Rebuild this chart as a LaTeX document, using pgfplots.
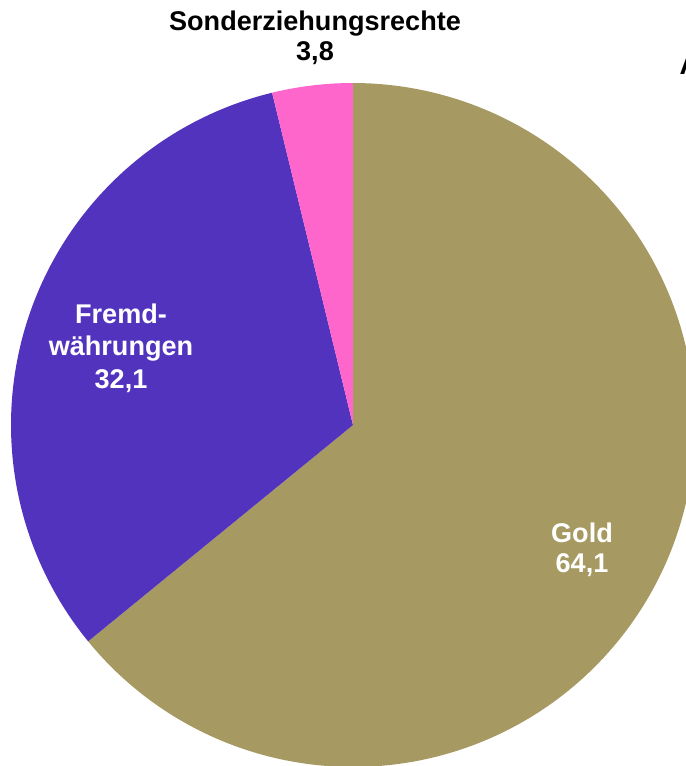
\documentclass[border=0pt]{standalone}
\usepackage{pgfplots}
\pgfplotsset{compat=1.18}
\usepackage{pgfplotstable}
\usepackage{fontspec}
\setmainfont{Liberation Sans}
\definecolor{cgold}{RGB}{166,154,98}
\definecolor{cpurple}{RGB}{82,51,190}
\definecolor{cpink}{RGB}{255,102,204}
\pgfplotstableread{
label value
Gold 64.1
Fremd 32.1
SZR 3.8
}\piedata
\begin{document}
\begin{tikzpicture}
\pgfplotstablegetelem{0}{value}\of\piedata \let\vA\pgfplotsretval
\pgfplotstablegetelem{1}{value}\of\piedata \let\vB\pgfplotsretval
\pgfplotstablegetelem{2}{value}\of\piedata \let\vC\pgfplotsretval
\pgfmathsetmacro\aA{90-3.6*\vA}
\pgfmathsetmacro\aB{\aA-3.6*\vB}
\pgfmathsetmacro\aC{\aB-3.6*\vC}
\begin{axis}[
  scale only axis, width=6.86cm, height=7.66cm,
  xmin=-353, xmax=333, ymin=-341, ymax=425,
  hide axis, clip mode=individual, anchor=south west, at={(0,0)},
]
\addplot[fill=cgold, draw=none, domain=\aA:90, samples=240] ({342*cos(x)},{342*sin(x)}) -- (axis cs:0,0) -- cycle;
\addplot[fill=cpurple, draw=none, domain=\aB:\aA, samples=160] ({342*cos(x)},{342*sin(x)}) -- (axis cs:0,0) -- cycle;
\addplot[fill=cpink, draw=none, domain=\aC:\aB, samples=30] ({342*cos(x)},{342*sin(x)}) -- (axis cs:0,0) -- cycle;
\coordinate (BL) at (rel axis cs:0,0);
\coordinate (TR) at (rel axis cs:1,1);
\node[align=center, text=black, font=\fontsize{7.7}{8.6}\selectfont\bfseries] at (axis cs:-38,387) {Sonderziehungsrechte\\3,8};
\node[align=center, text=white, font=\fontsize{7.7}{9.3}\selectfont\bfseries] at (axis cs:-232,77) {Fremd-\\währungen\\32,1};
\node[align=center, text=white, font=\fontsize{7.7}{8.6}\selectfont\bfseries] at (axis cs:229,-125) {Gold\\64,1};
\node[anchor=west, text=black, inner sep=0pt, font=\fontsize{7.9}{9}\selectfont\bfseries] at (axis cs:326,360) {A};
\end{axis}
\pgfresetboundingbox
\path (BL) rectangle (TR);
\end{tikzpicture}
\end{document}
